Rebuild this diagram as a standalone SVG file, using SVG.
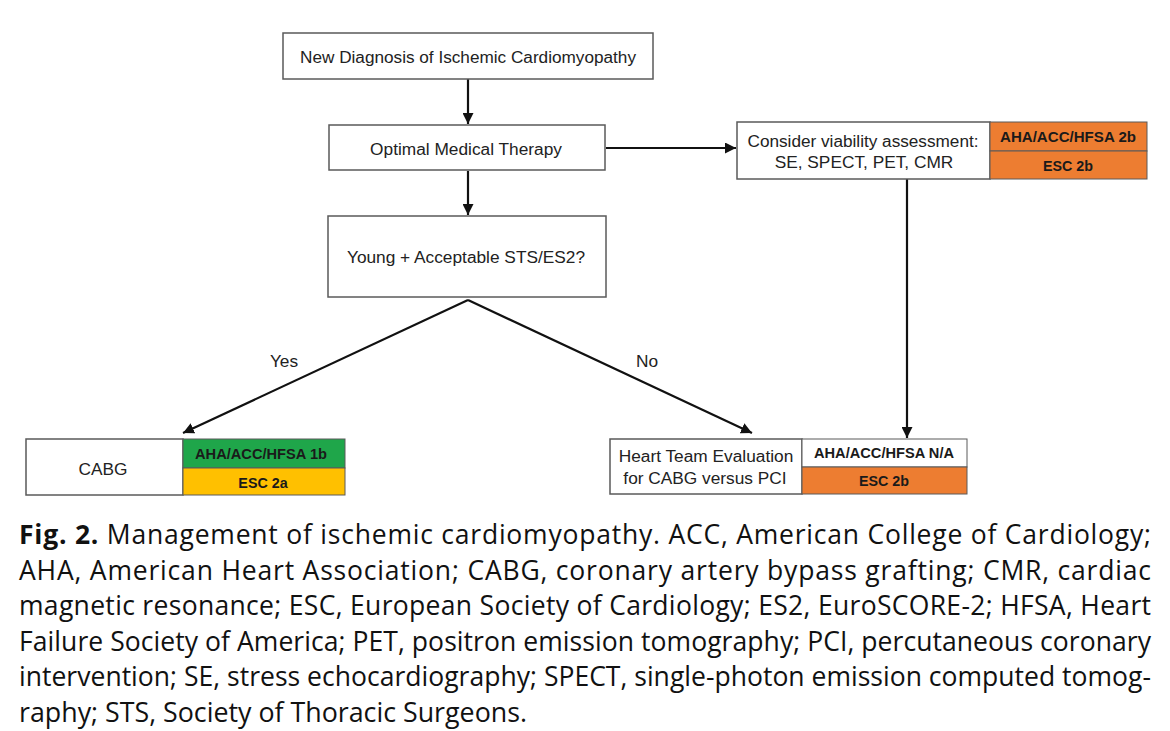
<svg xmlns="http://www.w3.org/2000/svg" width="1170" height="731" viewBox="0 0 1170 731">
<defs>
<style>
.box{fill:#fff;stroke:#5a5a5a;stroke-width:1.5}
.t{font-family:"Liberation Sans",Arial,sans-serif;font-size:17.3px;fill:#222;text-anchor:middle}
.b{font-family:"Liberation Sans",Arial,sans-serif;font-size:14.3px;font-weight:bold;fill:#1a1a1a;text-anchor:middle}
.line{fill:none;stroke:#111;stroke-width:2.2}
.cap{font-family:"Open Sans","Noto Sans",sans-serif;font-size:26.5px;fill:#111}
</style>
<marker id="ah" viewBox="0 0 10 10" refX="10" refY="5" markerWidth="5" markerHeight="5" orient="auto" markerUnits="strokeWidth">
<path d="M0,0 L10,5 L0,10 z" fill="#111"/>
</marker>
</defs>
<rect width="1170" height="731" fill="#fff"/>

<g id="connectors">
<line class="line" x1="468" y1="79" x2="468" y2="124" marker-end="url(#ah)"/>
<line class="line" x1="606" y1="148" x2="736" y2="148" marker-end="url(#ah)"/>
<line class="line" x1="468" y1="171" x2="468" y2="215" marker-end="url(#ah)"/>
<line class="line" x1="907" y1="179" x2="907" y2="438" marker-end="url(#ah)"/>
<line class="line" x1="468" y1="300" x2="183" y2="433" marker-end="url(#ah)"/>
<line class="line" x1="468" y1="300" x2="752" y2="433" marker-end="url(#ah)"/>
<text class="t" x="284" y="367">Yes</text>
<text class="t" x="647" y="367">No</text>
</g>

<g id="n1">
<rect class="box" x="283" y="33" width="370" height="46"/>
<text class="t" x="468" y="63" textLength="336" lengthAdjust="spacingAndGlyphs">New Diagnosis of Ischemic Cardiomyopathy</text>
</g>

<g id="n2">
<rect class="box" x="329" y="125" width="276" height="45"/>
<text class="t" x="466" y="155">Optimal Medical Therapy</text>
</g>

<g id="n3">
<rect class="box" x="737" y="122" width="253" height="57"/>
<text class="t" x="863" y="147" textLength="231" lengthAdjust="spacingAndGlyphs">Consider viability assessment:</text>
<text class="t" x="864" y="168">SE, SPECT, PET, CMR</text>
<rect x="990" y="122" width="157" height="29" fill="#ED7D31" stroke="#5a5a5a" stroke-width="1"/>
<rect x="990" y="151" width="157" height="28" fill="#ED7D31" stroke="#5a5a5a" stroke-width="1"/>
<text class="b" x="1068" y="142" textLength="136" lengthAdjust="spacingAndGlyphs">AHA/ACC/HFSA 2b</text>
<text class="b" x="1068" y="171">ESC 2b</text>
</g>

<g id="n4">
<rect class="box" x="328" y="216" width="278" height="81"/>
<text class="t" x="466" y="263">Young + Acceptable STS/ES2?</text>
</g>

<g id="n5">
<rect class="box" x="26" y="439" width="157" height="56"/>
<text class="t" x="103" y="475">CABG</text>
<rect x="183" y="439" width="162" height="29" fill="#1FA64A" stroke="#5a5a5a" stroke-width="1"/>
<rect x="183" y="468" width="162" height="27" fill="#FFC000" stroke="#5a5a5a" stroke-width="1"/>
<text class="b" x="261" y="459" textLength="132" lengthAdjust="spacingAndGlyphs">AHA/ACC/HFSA 1b</text>
<text class="b" x="263" y="488">ESC 2a</text>
</g>

<g id="n6">
<rect class="box" x="610" y="439" width="192" height="55"/>
<text class="t" x="706" y="462">Heart Team Evaluation</text>
<text class="t" x="705" y="484">for CABG versus PCI</text>
<rect x="802" y="439" width="165" height="28" fill="#fff" stroke="#5a5a5a" stroke-width="1"/>
<rect x="802" y="467" width="165" height="27" fill="#ED7D31" stroke="#5a5a5a" stroke-width="1"/>
<text class="b" x="884" y="458" textLength="140" lengthAdjust="spacingAndGlyphs">AHA/ACC/HFSA N/A</text>
<text class="b" x="884" y="486">ESC 2b</text>
</g>

<g id="caption">
<text class="cap" x="19" y="544" textLength="1132" lengthAdjust="spacing"><tspan font-weight="bold">Fig. 2.</tspan> Management of ischemic cardiomyopathy. ACC, American College of Cardiology;</text>
<text class="cap" x="19" y="579.5" textLength="1132" lengthAdjust="spacing">AHA, American Heart Association; CABG, coronary artery bypass grafting; CMR, cardiac</text>
<text class="cap" x="19" y="615" textLength="1132" lengthAdjust="spacing">magnetic resonance; ESC, European Society of Cardiology; ES2, EuroSCORE-2; HFSA, Heart</text>
<text class="cap" x="19" y="650.5" textLength="1132" lengthAdjust="spacing">Failure Society of America; PET, positron emission tomography; PCI, percutaneous coronary</text>
<text class="cap" x="19" y="686" textLength="1132" lengthAdjust="spacing">intervention; SE, stress echocardiography; SPECT, single-photon emission computed tomog-</text>
<text class="cap" x="19" y="721.5" textLength="508" lengthAdjust="spacingAndGlyphs">raphy; STS, Society of Thoracic Surgeons.</text>
</g>
</svg>
